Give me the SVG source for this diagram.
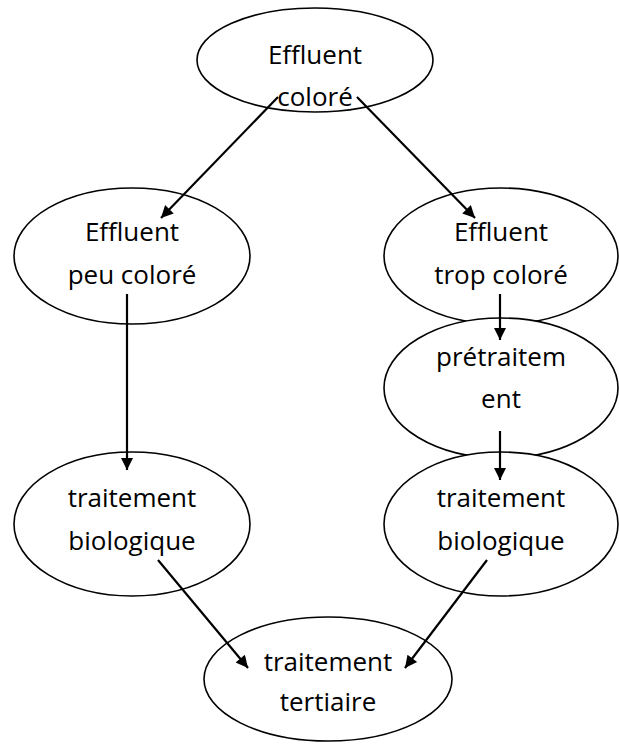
<svg xmlns="http://www.w3.org/2000/svg" width="619" height="744" viewBox="0 0 619 744">
<style>
.n ellipse{fill:#fff;stroke:#000;stroke-width:1.6}
.n text{font-family:"Open Sans","Liberation Sans",sans-serif;font-size:26px;fill:#000;text-anchor:middle}
.c line{stroke:#000;stroke-width:2.2;marker-end:url(#ah)}
</style>
<defs>
<marker id="ah" viewBox="0 0 10 10" refX="10" refY="5" markerWidth="6.5" markerHeight="5.5" markerUnits="strokeWidth" orient="auto">
<path d="M0,0 L10,5 L0,10 z" fill="#000"/>
</marker>
</defs>
<rect width="619" height="744" fill="#fff"/>
<g id="n1" class="n"><ellipse cx="315" cy="60" rx="118" ry="52"/><text x="315" y="64">Effluent</text><text x="315" y="106">coloré</text></g>
<g id="n2" class="n"><ellipse cx="132" cy="256" rx="118" ry="68"/><text x="132" y="241">Effluent</text><text x="132" y="284">peu coloré</text></g>
<g id="n3" class="n"><ellipse cx="501" cy="256" rx="117" ry="68"/><text x="501" y="241">Effluent</text><text x="501" y="284">trop coloré</text></g>
<g id="n4" class="n"><ellipse cx="501" cy="388" rx="117" ry="70"/><text x="501" y="366">prétraitem</text><text x="501" y="408">ent</text></g>
<g id="n5" class="n"><ellipse cx="132" cy="524" rx="118" ry="72"/><text x="132" y="507">traitement</text><text x="132" y="550">biologique</text></g>
<g id="n6" class="n"><ellipse cx="501" cy="524" rx="117" ry="72"/><text x="501" y="507">traitement</text><text x="501" y="550">biologique</text></g>
<g id="n7" class="n"><ellipse cx="328" cy="679" rx="124" ry="62"/><text x="328" y="671">traitement</text><text x="328" y="711">tertiaire</text></g>
<g class="c">
<line x1="278" y1="97" x2="161" y2="218"/>
<line x1="357" y1="97" x2="475" y2="218"/>
<line x1="127" y1="294" x2="127" y2="470"/>
<line x1="500" y1="294" x2="500" y2="340"/>
<line x1="500" y1="431" x2="500" y2="480"/>
<line x1="158" y1="560" x2="248" y2="668"/>
<line x1="487" y1="560" x2="405" y2="668"/>
</g>
</svg>
